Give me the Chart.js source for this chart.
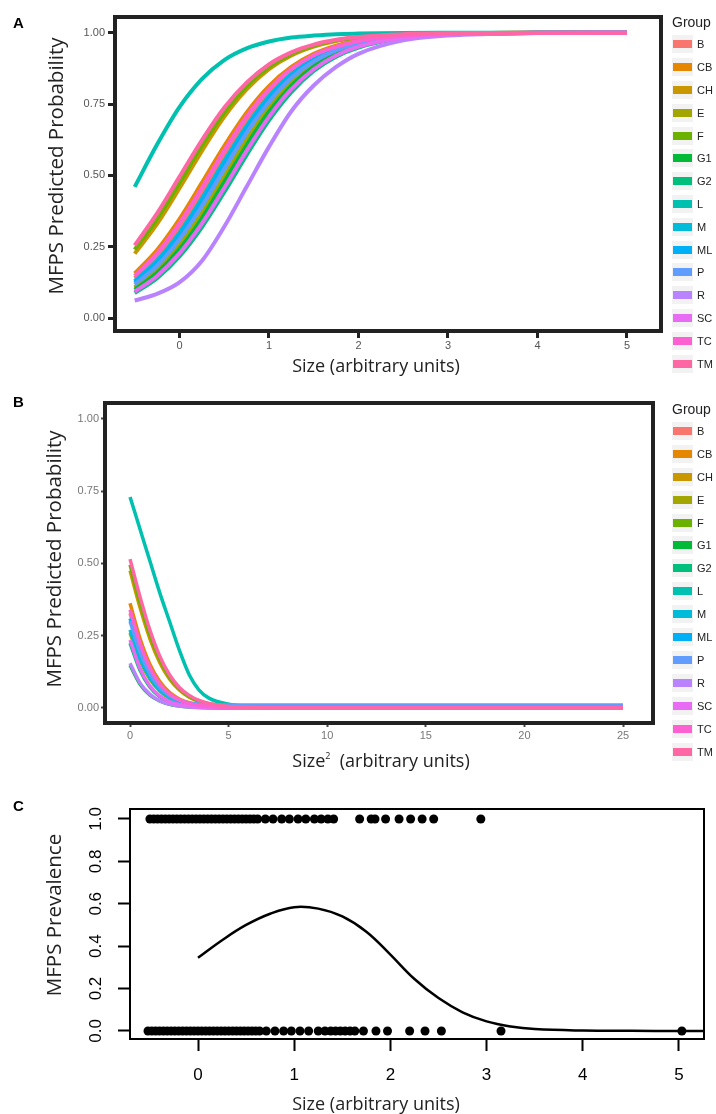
<!DOCTYPE html>
<html>
<head>
<meta charset="utf-8">
<script src="https://cdn.jsdelivr.net/npm/chart.js@4.4.1/dist/chart.umd.min.js"></script>
<style>
  body { margin: 0; background: #fff; width: 716px; height: 1114px; position: relative; overflow: hidden; font-family: 'Liberation Sans', Arial, sans-serif; }
  canvas { position: absolute; left: 0; }
  .panel { position: absolute; font-weight: bold; font-size: 15px; line-height: 15px; color: #000; }
  .title { position: absolute; white-space: nowrap; font-family: 'Open Sans', sans-serif; color: #222; transform: translate(-50%, -50%); }
  .ytitle { transform: translate(-50%, -50%) rotate(-90deg); font-size: 20.5px; }
  .xtitle { font-size: 18px; }
  .xtitle sup { font-size: 9px; vertical-align: 8px; }
  .legend { position: absolute; left: 672px; width: 44px; }
  .legend .ttl { position: absolute; left: 0; font-size: 14px; line-height: 16px; color: #222; }
  .legend .item { position: absolute; left: 0; height: 18px; width: 44px; }
  .legend .key { position: absolute; left: 0; top: 0; width: 21px; height: 18px; background: #F2F2F2; }
  .legend .key span { position: absolute; left: 1px; top: 5px; width: 19px; height: 8px; }
  .legend .txt { position: absolute; left: 25px; top: 0; line-height: 18px; font-size: 11px; color: #222; }
</style>
</head>
<body>
<canvas id="chartA" width="716" height="385" style="top:0"></canvas>
<canvas id="chartB" width="716" height="395" style="top:385px"></canvas>
<canvas id="chartC" width="716" height="334" style="top:780px"></canvas>

<div class="panel" style="left:13px;top:15px">A</div>
<div class="panel" style="left:13px;top:394px">B</div>
<div class="panel" style="left:13px;top:798px">C</div>

<div class="title ytitle" style="left:55px;top:166px">MFPS Predicted Probability</div>
<div class="title xtitle" style="left:376px;top:365px">Size (arbitrary units)</div>
<div class="title ytitle" style="left:53px;top:559px">MFPS Predicted Probability</div>
<div class="title xtitle" style="left:381px;top:760px">Size<sup>2</sup>&nbsp; (arbitrary units)</div>
<div class="title ytitle" style="left:53px;top:915px">MFPS Prevalence</div>
<div class="title xtitle" style="left:376px;top:1103px">Size (arbitrary units)</div>

<div class="legend" id="legendA" style="top:0"></div>
<div class="legend" id="legendB" style="top:385px"></div>

<script>
// groups and ggplot default hue colours
const groups = ['B', 'CB', 'CH', 'E', 'F', 'G1', 'G2', 'L', 'M', 'ML', 'P', 'R', 'SC', 'TC', 'TM'];
const groupColors = ['#F8766D', '#E58700', '#C99800', '#A3A500', '#6BB100', '#00BA38', '#00BF7D', '#00C0AF',
                     '#00BCD8', '#00B0F6', '#619CFF', '#B983FF', '#E76BF3', '#FD61D1', '#FF67A4'];

// panel A: predicted probability vs size
const sizeGrid = [-0.5, -0.25, 0, 0.25, 0.5, 0.75, 1, 1.25, 1.5, 1.75, 2, 2.5, 3, 4, 5];
const sizeFitB  = [0.140, 0.216, 0.318, 0.440, 0.571, 0.692, 0.792, 0.865, 0.916, 0.948, 0.969, 0.989, 0.996, 0.9995, 1];
const sizeFitCB = [0.157, 0.239, 0.347, 0.474, 0.603, 0.720, 0.813, 0.880, 0.926, 0.955, 0.973, 0.990, 0.997, 0.9996, 1];
const sizeFitCH = [0.226, 0.330, 0.455, 0.585, 0.705, 0.801, 0.872, 0.920, 0.951, 0.971, 0.982, 0.994, 0.998, 1, 1];
const sizeFitE  = [0.108, 0.170, 0.257, 0.369, 0.497, 0.626, 0.739, 0.827, 0.890, 0.932, 0.958, 0.985, 0.995, 0.9994, 1];
const sizeFitF  = [0.240, 0.348, 0.474, 0.604, 0.720, 0.813, 0.880, 0.926, 0.955, 0.973, 0.984, 0.994, 0.998, 1, 1];
const sizeFitG1 = [0.100, 0.158, 0.241, 0.349, 0.476, 0.605, 0.722, 0.814, 0.881, 0.926, 0.955, 0.984, 0.994, 0.9993, 1];
const sizeFitG2 = [0.088, 0.140, 0.216, 0.318, 0.441, 0.571, 0.693, 0.792, 0.866, 0.916, 0.948, 0.981, 0.993, 0.9992, 1];
const sizeFitL  = [0.460, 0.608, 0.739, 0.837, 0.904, 0.945, 0.969, 0.983, 0.990, 0.995, 0.997, 0.9991, 0.9997, 1, 1];
const sizeFitM  = [0.130, 0.202, 0.299, 0.419, 0.550, 0.673, 0.777, 0.855, 0.909, 0.944, 0.966, 0.988, 0.996, 0.9995, 1];
const sizeFitML = [0.125, 0.195, 0.290, 0.408, 0.538, 0.664, 0.769, 0.849, 0.905, 0.942, 0.965, 0.987, 0.996, 0.9994, 1];
const sizeFitP  = [0.118, 0.184, 0.276, 0.392, 0.522, 0.649, 0.757, 0.841, 0.899, 0.938, 0.962, 0.986, 0.995, 0.9994, 1];
const sizeFitR  = [0.062, 0.085, 0.125, 0.200, 0.320, 0.460, 0.600, 0.725, 0.815, 0.880, 0.926, 0.973, 0.990, 0.9988, 1];
const sizeFitSC = [0.093, 0.148, 0.227, 0.331, 0.456, 0.586, 0.705, 0.802, 0.872, 0.920, 0.951, 0.982, 0.994, 0.9992, 1];
const sizeFitTC = [0.148, 0.227, 0.332, 0.456, 0.587, 0.706, 0.802, 0.873, 0.921, 0.951, 0.971, 0.990, 0.996, 0.9995, 1];
const sizeFitTM = [0.255, 0.367, 0.495, 0.623, 0.737, 0.825, 0.889, 0.931, 0.958, 0.975, 0.985, 0.995, 0.998, 0.9998, 1];

// panel B: predicted probability vs size squared
const sqGrid = [0, 0.5, 1, 1.5, 2, 2.5, 3, 3.5, 4, 5, 6, 8, 10, 15, 20, 25];
const sqFitB  = [0.328, 0.216, 0.134, 0.080, 0.047, 0.027, 0.015, 0.0086, 0.0049, 0.0016, 0.0005, 0.0001, 0, 0, 0, 0];
const sqFitCB = [0.362, 0.242, 0.152, 0.092, 0.054, 0.031, 0.018, 0.010, 0.0057, 0.0018, 0.0006, 0.0001, 0, 0, 0, 0];
const sqFitCH = [0.475, 0.349, 0.241, 0.158, 0.100, 0.062, 0.037, 0.022, 0.013, 0.0047, 0.0017, 0.0002, 0, 0, 0, 0];
const sqFitE  = [0.260, 0.165, 0.100, 0.059, 0.034, 0.0195, 0.011, 0.0063, 0.0035, 0.0011, 0.0003, 0, 0, 0, 0, 0];
const sqFitF  = [0.495, 0.367, 0.255, 0.169, 0.107, 0.066, 0.040, 0.024, 0.0145, 0.0051, 0.0018, 0.0002, 0, 0, 0, 0];
const sqFitG1 = [0.148, 0.083, 0.045, 0.024, 0.0127, 0.0067, 0.0035, 0.0018, 0.001, 0.0003, 0, 0, 0, 0, 0, 0];
const sqFitG2 = [0.224, 0.131, 0.073, 0.039, 0.021, 0.011, 0.0058, 0.003, 0.0016, 0.0004, 0.0001, 0, 0, 0, 0, 0];
const sqFitL  = [0.730, 0.620, 0.510, 0.400, 0.300, 0.200, 0.115, 0.062, 0.034, 0.013, 0.006, 0.002, 0.001, 0, 0, 0];
const sqFitM  = [0.270, 0.172, 0.105, 0.062, 0.036, 0.0205, 0.0116, 0.0066, 0.0037, 0.0012, 0.0003, 0, 0, 0, 0, 0];
const sqFitML = [0.310, 0.202, 0.125, 0.074, 0.043, 0.025, 0.014, 0.008, 0.0045, 0.0014, 0.0004, 0.0001, 0, 0, 0, 0];
const sqFitP  = [0.300, 0.194, 0.120, 0.071, 0.042, 0.026, 0.017, 0.013, 0.011, 0.010, 0.010, 0.010, 0.010, 0.010, 0.010, 0.010];
const sqFitR  = [0.155, 0.087, 0.048, 0.025, 0.0134, 0.007, 0.0037, 0.0019, 0.001, 0.0003, 0, 0, 0, 0, 0, 0];
const sqFitSC = [0.235, 0.138, 0.077, 0.042, 0.022, 0.0118, 0.0062, 0.0032, 0.0017, 0.0005, 0.0001, 0, 0, 0, 0, 0];
const sqFitTC = [0.340, 0.225, 0.140, 0.084, 0.049, 0.028, 0.016, 0.0091, 0.0052, 0.0016, 0.0005, 0.0001, 0, 0, 0, 0];
const sqFitTM = [0.515, 0.386, 0.271, 0.180, 0.115, 0.071, 0.0435, 0.026, 0.0157, 0.0055, 0.0019, 0.0002, 0, 0, 0, 0];

// panel C: observed prevalence (1 = present, 0 = absent) and fitted curve
const presentSize = [-0.50, -0.46, -0.42, -0.38, -0.34, -0.30, -0.26, -0.22, -0.18, -0.14, -0.10, -0.06, -0.02,
                     0.02, 0.06, 0.10, 0.14, 0.18, 0.22, 0.26, 0.30, 0.34, 0.38, 0.42, 0.46, 0.50, 0.54, 0.58, 0.62,
                     0.70, 0.78, 0.87, 0.95, 1.04, 1.12, 1.21, 1.28, 1.35, 1.41,
                     1.68, 1.80, 1.84, 1.95, 2.09, 2.21, 2.33, 2.45, 2.94];
const absentSize = [-0.52, -0.48, -0.44, -0.40, -0.36, -0.32, -0.28, -0.24, -0.20, -0.16, -0.12, -0.08, -0.04,
                    0.00, 0.04, 0.08, 0.12, 0.16, 0.20, 0.24, 0.28, 0.32, 0.36, 0.40, 0.44, 0.48, 0.52, 0.56, 0.60, 0.64,
                    0.71, 0.80, 0.89, 0.97, 1.06, 1.15, 1.25, 1.32, 1.38, 1.43, 1.48, 1.53, 1.58, 1.63,
                    1.72, 1.85, 1.97, 2.20, 2.36, 2.53, 3.15, 5.03];
const curveSize = [0, 0.25, 0.5, 0.75, 1, 1.25, 1.5, 1.75, 2, 2.25, 2.5, 2.75, 3, 3.25, 3.5, 4, 4.5, 5, 5.25];
const curvePrev = [0.345, 0.428, 0.500, 0.553, 0.584, 0.577, 0.540, 0.468, 0.360, 0.245, 0.155, 0.088, 0.045, 0.021, 0.009, 0.002, 0.0004, 0, 0];

// tick values
const sizeTicks = [0, 1, 2, 3, 4, 5];
const probTicks = [0, 0.25, 0.5, 0.75, 1];
const sqTicks = [0, 5, 10, 15, 20, 25];
const prevTicks = [0, 0.2, 0.4, 0.6, 0.8, 1];

const sizeFits = [sizeFitB, sizeFitCB, sizeFitCH, sizeFitE, sizeFitF, sizeFitG1, sizeFitG2, sizeFitL,
                  sizeFitM, sizeFitML, sizeFitP, sizeFitR, sizeFitSC, sizeFitTC, sizeFitTM];
const sqFits = [sqFitB, sqFitCB, sqFitCH, sqFitE, sqFitF, sqFitG1, sqFitG2, sqFitL,
                sqFitM, sqFitML, sqFitP, sqFitR, sqFitSC, sqFitTC, sqFitTM];

Chart.defaults.font.family = "'Liberation Sans', Arial, sans-serif";

const framePlugin = {
  id: 'frame',
  afterDatasetsDraw(chart, args, opts) {
    const { ctx, chartArea: a } = chart;
    ctx.save();
    ctx.strokeStyle = opts.color;
    ctx.lineWidth = opts.width;
    ctx.strokeRect(a.left, a.top, a.right - a.left, a.bottom - a.top);
    ctx.restore();
  }
};

// base R style vertical tick labels on the y axis
const rotatedYLabels = {
  id: 'rotatedYLabels',
  afterDraw(chart, args, opts) {
    const y = chart.scales.y, ctx = chart.ctx;
    ctx.save();
    ctx.font = opts.font;
    ctx.fillStyle = '#000';
    ctx.textAlign = 'center';
    ctx.textBaseline = 'middle';
    y.ticks.forEach(t => {
      ctx.save();
      ctx.translate(opts.x, y.getPixelForValue(t.value));
      ctx.rotate(-Math.PI / 2);
      ctx.fillText(t.value.toFixed(1), 0, 0);
      ctx.restore();
    });
    ctx.restore();
  }
};

function fixedTicks(values) {
  return scale => { scale.ticks = values.map(v => ({ value: v })); };
}

function groupDatasets(xs, fits, width) {
  return groups.map((g, i) => ({
    label: g,
    data: xs.map((x, j) => ({ x: x, y: fits[i][j] })),
    borderColor: groupColors[i],
    borderWidth: width,
    pointRadius: 0,
    cubicInterpolationMode: 'monotone',
    order: groups.length - i
  }));
}

function ggScales(xr, yr, xTicks, yWidth, xHeight, tickCol, tickLen, tickW, lblCol, xPad, yPad) {
  return {
    x: {
      type: 'linear', min: xr[0], max: xr[1],
      afterBuildTicks: fixedTicks(xTicks),
      afterFit: s => { s.height = xHeight; },
      border: { display: false },
      grid: { drawOnChartArea: false, tickLength: tickLen, tickWidth: tickW, tickColor: tickCol },
      ticks: { color: lblCol, font: { size: 11 }, padding: xPad, maxRotation: 0 }
    },
    y: {
      min: yr[0], max: yr[1],
      afterBuildTicks: fixedTicks(probTicks),
      afterFit: s => { s.width = yWidth; },
      border: { display: false },
      grid: { drawOnChartArea: false, tickLength: tickLen, tickWidth: tickW, tickColor: tickCol },
      ticks: { color: lblCol, font: { size: 11 }, padding: yPad, callback: v => v.toFixed(2) }
    }
  };
}

new Chart(document.getElementById('chartA'), {
  type: 'line',
  data: { datasets: groupDatasets(sizeGrid, sizeFits, 4) },
  options: {
    responsive: false, animation: false,
    layout: { padding: { left: 0, right: 55, top: 17, bottom: 0 } },
    scales: ggScales([-0.72, 5.38], [-0.045, 1.055], sizeTicks, 115, 54, '#222', 7, 3, '#555', 1, 3),
    plugins: { legend: { display: false }, tooltip: { enabled: false }, frame: { color: '#222', width: 4 } }
  },
  plugins: [framePlugin]
});

new Chart(document.getElementById('chartB'), {
  type: 'line',
  data: { datasets: groupDatasets(sqGrid, sqFits, 3.5) },
  options: {
    responsive: false, animation: false,
    layout: { padding: { left: 0, right: 63, top: 18, bottom: 0 } },
    scales: ggScales([-1.27, 26.52], [-0.052, 1.055], sqTicks, 105, 57, '#444', 4, 2, '#777', 2, 2),
    plugins: { legend: { display: false }, tooltip: { enabled: false }, frame: { color: '#222', width: 4 } }
  },
  plugins: [framePlugin]
});

new Chart(document.getElementById('chartC'), {
  type: 'scatter',
  data: {
    datasets: [
      {
        type: 'line',
        label: 'fit',
        data: curveSize.map((x, i) => ({ x: x, y: curvePrev[i] })),
        borderColor: '#000', borderWidth: 2.5, pointRadius: 0, fill: false,
        tension: 0.4
      },
      {
        label: 'present',
        data: presentSize.map(x => ({ x: x, y: 1 })),
        pointRadius: 4.5, backgroundColor: '#000', borderWidth: 0
      },
      {
        label: 'absent',
        data: absentSize.map(x => ({ x: x, y: 0 })),
        pointRadius: 4.5, backgroundColor: '#000', borderWidth: 0
      }
    ]
  },
  options: {
    responsive: false, animation: false,
    layout: { padding: { left: 0, right: 12, top: 29, bottom: 0 } },
    scales: {
      x: {
        type: 'linear', min: -0.707, max: 5.26,
        afterBuildTicks: fixedTicks(sizeTicks),
        afterFit: s => { s.height = 75; },
        border: { display: false },
        grid: { drawOnChartArea: false, tickLength: 12, tickWidth: 2, tickColor: '#000' },
        ticks: { color: '#000', font: { size: 17 }, padding: 14, maxRotation: 0 }
      },
      y: {
        type: 'linear', min: -0.038, max: 1.047,
        afterBuildTicks: fixedTicks(prevTicks),
        afterFit: s => { s.width = 130; },
        border: { display: false },
        grid: { drawOnChartArea: false, tickLength: 12, tickWidth: 2, tickColor: '#000' },
        ticks: { display: false }
      }
    },
    plugins: {
      legend: { display: false }, tooltip: { enabled: false },
      frame: { color: '#000', width: 2 },
      rotatedYLabels: { x: 96, font: "17px 'Liberation Sans', Arial, sans-serif" }
    }
  },
  plugins: [framePlugin, rotatedYLabels]
});

// ggplot style legends
function buildLegend(id, titleCenter, firstCenter, step) {
  const box = document.getElementById(id);
  const ttl = document.createElement('div');
  ttl.className = 'ttl';
  ttl.textContent = 'Group';
  ttl.style.top = (titleCenter - 8) + 'px';
  box.appendChild(ttl);
  groups.forEach((g, i) => {
    const item = document.createElement('div');
    item.className = 'item';
    item.style.top = (firstCenter + i * step - 9) + 'px';
    item.innerHTML = '<div class="key"><span style="background:' + groupColors[i] + '"></span></div>' +
                     '<div class="txt">' + g + '</div>';
    box.appendChild(item);
  });
}
buildLegend('legendA', 22, 44.3, 22.8);
buildLegend('legendB', 24, 45.7, 22.95);
</script>
</body>
</html>
